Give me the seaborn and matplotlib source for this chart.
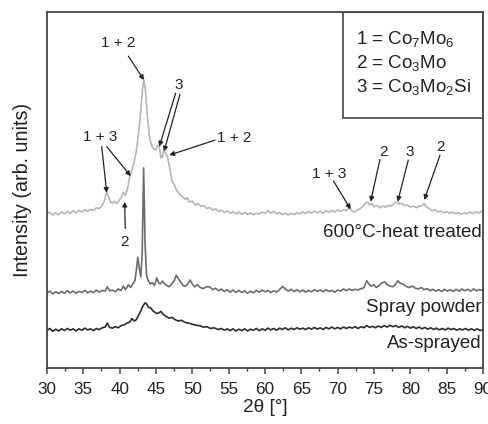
import matplotlib
matplotlib.use("Agg")
import matplotlib.pyplot as plt
import matplotlib.transforms as mtransforms
from matplotlib.patches import Rectangle
from matplotlib.ticker import MultipleLocator
import numpy as np
import pandas as pd
import seaborn as sns

# ---------------- data ----------------
heat_x = [30.0, 30.4, 30.8, 31.2, 31.6, 32.0, 32.4, 32.8, 33.2, 33.6, 34.0, 34.4, 34.8, 35.2, 35.6, 36.0, 36.4, 36.8, 37.2, 37.6,
          37.9, 38.2, 38.4, 38.7, 39.0, 39.3, 39.6, 39.9, 40.2, 40.5, 40.8, 41.1, 41.4, 41.7, 42.0, 42.3, 42.6, 42.9, 43.15, 43.35,
          43.55, 43.8, 44.1, 44.4, 44.7, 45.0, 45.2, 45.45, 45.7, 45.85, 46.05, 46.3, 46.6, 46.9, 47.2, 47.5, 47.8, 48.1, 48.4, 48.7,
          49.0, 49.3, 49.6, 50.0, 50.4, 50.8, 51.2, 51.6, 52.0, 52.4, 52.8, 53.2, 53.6, 54.0, 54.4, 54.8, 55.2, 55.6, 56.0, 56.4,
          56.8, 57.2, 57.6, 58.0, 58.4, 58.8, 59.2, 59.6, 60.0, 60.4, 60.8, 61.2, 61.6, 62.0, 62.4, 62.8, 63.2, 63.6, 64.0, 64.4,
          64.8, 65.2, 65.6, 66.0, 66.4, 66.8, 67.2, 67.6, 68.0, 68.4, 68.8, 69.2, 69.6, 70.0, 70.4, 70.8, 71.2, 71.6, 71.9, 72.2,
          72.6, 73.0, 73.4, 73.8, 74.1, 74.4, 74.7, 75.0, 75.4, 75.8, 76.2, 76.6, 77.0, 77.4, 77.8, 78.2, 78.5, 78.8, 79.2, 79.6,
          80.0, 80.4, 80.8, 81.2, 81.6, 81.9, 82.2, 82.6, 83.0, 83.4, 83.8, 84.2, 84.6, 85.0, 85.4, 85.8, 86.2, 86.6, 87.0, 87.4,
          87.8, 88.2, 88.6, 89.0, 89.4, 89.8, 90.0]
heat_y = [43.2, 43.8, 43.0, 43.6, 43.1, 43.9, 43.3, 44.0, 43.4, 44.2, 43.6, 44.3, 43.8, 44.5, 44.0, 44.6, 44.3, 45.0, 44.8, 45.6,
          47.0, 49.5, 48.6, 46.8, 46.3, 46.8, 46.2, 47.0, 47.8, 49.3, 48.5, 50.5, 54.0, 55.5, 58.0, 61.0, 66.0, 72.0, 78.5, 80.9,
          78.0, 71.0, 65.0, 62.5, 61.5, 61.2, 62.6, 62.2, 59.0, 59.2, 61.0, 60.4, 59.2, 56.0, 52.5, 51.5, 50.0, 49.2, 48.5, 48.0,
          47.4, 47.8, 46.6, 46.9, 45.8, 46.2, 45.4, 45.6, 44.8, 45.1, 44.4, 44.7, 44.0, 44.3, 43.7, 44.1, 43.5, 43.9, 43.3, 43.8,
          43.2, 43.7, 43.1, 43.6, 43.0, 43.5, 43.2, 43.8, 43.4, 44.2, 43.5, 44.0, 43.3, 43.7, 43.1, 43.5, 43.0, 43.4, 43.1, 43.7,
          43.2, 43.9, 43.4, 44.0, 43.5, 44.1, 43.6, 44.0, 43.5, 44.2, 43.7, 44.3, 43.8, 44.4, 44.0, 44.5, 44.2, 45.0, 44.3, 43.8,
          44.2, 44.6, 45.3, 46.2, 46.6, 45.8, 46.2, 45.3, 45.6, 45.0, 45.5, 45.2, 45.7, 45.5, 46.2, 46.6, 46.0, 46.3, 45.6, 45.8,
          45.2, 45.5, 45.0, 45.4, 45.6, 46.2, 45.3, 44.8, 44.2, 44.5, 43.8, 44.1, 43.6, 43.9, 43.4, 43.8, 43.3, 43.7, 43.2, 43.6,
          43.3, 43.8, 43.4, 43.9, 43.5, 44.0, 43.7]

spray_x = [30.0, 30.4, 30.8, 31.2, 31.6, 32.0, 32.4, 32.8, 33.2, 33.6, 34.0, 34.4, 34.8, 35.2, 35.6, 36.0, 36.4, 36.8, 37.2, 37.6,
           38.0, 38.3, 38.6, 39.0, 39.4, 39.8, 40.2, 40.5, 40.8, 41.2, 41.5, 41.8, 42.1, 42.3, 42.5, 42.7, 42.9, 43.1, 43.3, 43.5,
           43.7, 43.9, 44.2, 44.5, 44.8, 45.1, 45.4, 45.6, 45.9, 46.2, 46.5, 46.8, 47.1, 47.5, 47.8, 48.1, 48.4, 48.7, 49.0, 49.3,
           49.7, 50.0, 50.3, 50.7, 51.1, 51.5, 51.9, 52.4, 52.8, 53.2, 53.6, 54.0, 54.4, 54.8, 55.2, 55.6, 56.0, 56.4, 56.8, 57.2,
           57.6, 58.0, 58.4, 58.8, 59.2, 59.6, 60.0, 60.4, 60.8, 61.2, 61.6, 62.0, 62.4, 62.8, 63.2, 63.6, 64.0, 64.4, 64.8, 65.2,
           65.6, 66.0, 66.4, 66.8, 67.2, 67.6, 68.0, 68.4, 68.8, 69.2, 69.6, 70.0, 70.4, 70.8, 71.2, 71.6, 72.0, 72.4, 72.8, 73.2,
           73.6, 74.0, 74.3, 74.6, 75.0, 75.3, 75.6, 76.0, 76.5, 76.8, 77.2, 77.6, 78.0, 78.3, 78.6, 79.0, 79.4, 79.8, 80.3, 80.7,
           81.1, 81.5, 81.9, 82.3, 82.7, 83.1, 83.5, 83.9, 84.3, 84.7, 85.1, 85.5, 85.9, 86.3, 86.7, 87.1, 87.5, 87.9, 88.3, 88.7,
           89.1, 89.5, 90.0]
spray_y = [21.0, 21.6, 20.8, 21.4, 20.9, 21.5, 21.0, 21.7, 21.1, 21.6, 21.0, 21.5, 21.2, 21.8, 21.1, 21.6, 21.2, 21.9, 21.3, 21.8,
           21.6, 22.8, 21.7, 21.9, 21.4, 22.2, 21.8, 23.0, 22.0, 23.4, 22.6, 23.6, 24.5, 27.5, 31.1, 28.0, 25.6, 32.0, 56.2, 35.0,
           26.0, 24.7, 23.6, 24.0, 23.2, 25.3, 23.8, 23.6, 24.4, 23.6, 23.2, 22.8, 23.5, 24.5, 26.1, 25.0, 24.2, 23.2, 23.0, 23.4,
           24.7, 23.6, 22.8, 23.4, 22.6, 22.3, 22.8, 22.8, 22.0, 22.4, 21.7, 22.2, 21.5, 22.0, 21.3, 21.9, 21.2, 21.8, 21.2, 21.7,
           21.0, 21.6, 21.1, 21.8, 21.3, 21.9, 21.4, 21.8, 21.2, 21.7, 21.3, 22.0, 22.9, 22.2, 21.6, 22.1, 21.5, 22.0, 21.4, 21.9,
           21.3, 21.8, 21.4, 22.0, 21.5, 21.9, 21.4, 22.0, 21.5, 21.8, 21.3, 21.9, 21.6, 22.2, 21.7, 22.2, 21.8, 22.1, 21.9, 22.3,
           22.5, 24.5, 23.6, 23.0, 23.4, 22.6, 23.0, 23.8, 24.2, 23.4, 23.0, 22.8, 23.6, 24.5, 23.8, 23.5, 23.0, 22.6, 23.0, 22.4,
           22.2, 22.6, 22.0, 22.3, 21.7, 22.1, 21.6, 22.0, 21.5, 22.1, 21.6, 22.0, 21.5, 22.1, 21.6, 22.2, 21.7, 22.1, 21.6, 22.2,
           21.7, 22.0, 21.8]

asspr_x = [30.0, 30.4, 30.8, 31.2, 31.6, 32.0, 32.4, 32.8, 33.2, 33.6, 34.0, 34.4, 34.8, 35.2, 35.6, 36.0, 36.4, 36.8, 37.2, 37.6,
           38.0, 38.3, 38.6, 39.0, 39.4, 39.8, 40.2, 40.6, 41.0, 41.4, 41.7, 42.0, 42.3, 42.6, 42.9, 43.2, 43.5, 43.7, 44.0, 44.3,
           44.6, 44.9, 45.1, 45.4, 45.7, 46.0, 46.4, 46.8, 47.2, 47.7, 48.1, 48.5, 49.0, 49.5, 50.0, 50.5, 51.0, 51.5, 52.0, 52.5,
           53.0, 53.5, 54.0, 54.4, 54.8, 55.2, 55.6, 56.0, 56.4, 56.8, 57.2, 57.6, 58.0, 58.4, 58.8, 59.2, 59.6, 60.0, 60.4, 60.8,
           61.2, 61.6, 62.0, 62.4, 62.8, 63.2, 63.6, 64.0, 64.4, 64.8, 65.2, 65.6, 66.0, 66.4, 66.8, 67.2, 67.6, 68.0, 68.4, 68.8,
           69.2, 69.6, 70.0, 70.4, 70.8, 71.2, 71.6, 72.0, 72.4, 72.8, 73.2, 73.6, 74.0, 74.4, 74.8, 75.2, 75.6, 76.0, 76.4, 76.8,
           77.2, 77.6, 78.0, 78.4, 78.8, 79.2, 79.6, 80.0, 80.4, 80.8, 81.2, 81.6, 82.0, 82.4, 82.8, 83.2, 83.6, 84.0, 84.4, 84.8,
           85.2, 85.6, 86.0, 86.4, 86.8, 87.2, 87.6, 88.0, 88.4, 88.8, 89.2, 89.6, 90.0]
asspr_y = [10.5, 11.1, 10.3, 10.9, 10.4, 11.0, 10.5, 11.1, 10.6, 11.0, 10.4, 11.0, 10.6, 11.2, 10.7, 11.0, 10.5, 11.1, 10.8, 11.3,
           11.5, 12.6, 11.4, 11.2, 11.6, 11.3, 11.9, 12.1, 12.6, 12.9, 13.9, 13.2, 13.6, 14.8, 16.0, 17.4, 18.3, 18.0, 17.0, 16.8,
           16.0, 15.6, 15.3, 15.5, 15.9, 15.0, 14.5, 14.0, 14.2, 13.5, 13.2, 13.4, 12.8, 12.6, 12.3, 12.0, 11.9, 11.5, 11.6, 11.1,
           11.3, 10.8, 11.1, 10.6, 11.0, 10.5, 11.0, 10.4, 10.9, 10.5, 11.0, 10.4, 10.9, 10.6, 11.1, 10.5, 11.0, 10.6, 11.2, 10.7,
           11.1, 10.6, 11.2, 10.8, 11.3, 10.7, 11.2, 10.8, 11.3, 10.9, 11.2, 10.8, 11.3, 10.9, 11.4, 10.9, 11.3, 10.8, 11.4, 11.0,
           11.5, 11.0, 11.4, 11.0, 11.5, 11.1, 11.5, 11.2, 11.6, 11.1, 11.6, 11.3, 11.9, 11.4, 11.7, 11.3, 11.8, 11.4, 11.9, 11.5,
           12.0, 11.6, 11.9, 11.4, 11.8, 11.3, 11.7, 11.2, 11.6, 11.1, 11.5, 11.0, 11.4, 10.9, 11.3, 10.8, 11.2, 10.7, 11.1, 10.7,
           11.2, 10.8, 11.1, 10.6, 11.0, 10.7, 11.1, 10.6, 11.0, 10.6, 11.0, 10.5, 10.8]

series_names = ["600°C-heat treated", "Spray powder", "As-sprayed"]
series_colors = ["#b5b5b5", "#6c6c6c", "#2c2c2c"]
series_label_y = [36.7, 15.8, 5.5]

legend_lines = ["1 = Co$_\\mathregular{7}$Mo$_\\mathregular{6}$",
                "2 = Co$_\\mathregular{3}$Mo",
                "3 = Co$_\\mathregular{3}$Mo$_\\mathregular{2}$Si"]

# annotations: (label, text position, [(arrow start, arrow tip), ...])
annotations = [
    ("1 + 2", (39.81, 91.2), [((41.19, 87.6), (43.35, 80.9))]),
    ("3", (48.07, 79.5), [((47.71, 77.2), (45.45, 62.2)), ((48.30, 76.9), (46.10, 60.8))]),
    ("1 + 3", (37.29, 65.0), [((37.53, 62.2), (38.22, 49.2)), ((38.22, 62.2), (41.52, 53.9))]),
    ("2", (40.60, 35.5), [((40.77, 39.2), (40.69, 46.7))]),
    ("1 + 3", (68.85, 54.5), [((69.40, 52.6), (71.79, 44.6))]),
    ("2", (76.28, 60.8), [((75.82, 58.6), (74.54, 46.7))]),
    ("3", (79.95, 60.8), [((79.72, 58.4), (78.26, 46.7))]),
    ("2", (84.22, 62.2), [((84.08, 59.8), (81.92, 47.2))]),
]
right_annot = ("1 + 2", (53.35, 64.5), ((53.12, 64.0), (46.83, 59.8)))

# ---------------- styling ----------------
sns.set_theme(style="white")
plt.rcParams["font.family"] = ["Liberation Sans", "DejaVu Sans"]
plt.rcParams["mathtext.fontset"] = "custom"
plt.rcParams["mathtext.rm"] = "Liberation Sans"
plt.rcParams["mathtext.it"] = "Liberation Sans:italic"
plt.rcParams["mathtext.bf"] = "Liberation Sans:bold"

frames = []
for name, xs, ys in zip(series_names, [heat_x, spray_x, asspr_x], [heat_y, spray_y, asspr_y]):
    frames.append(pd.DataFrame({"two_theta": xs, "intensity": ys, "sample": name}))
df = pd.concat(frames, ignore_index=True)

fig = plt.figure(figsize=(4.89, 4.24), dpi=100)
ax = fig.add_axes([0.0961, 0.1321, 0.8916, 0.8396])

sns.lineplot(data=df, x="two_theta", y="intensity", hue="sample", palette=series_colors,
             hue_order=series_names, sort=False, estimator=None, lw=1.2, legend=False, ax=ax)

ax.set_xlim(30, 90)
ax.set_ylim(0, 100)
ax.set_yticks([])
ax.xaxis.set_major_locator(MultipleLocator(5))
ax.xaxis.set_minor_locator(MultipleLocator(2.5))
ax.tick_params(axis="x", which="major", direction="out", length=4.5, width=1.1, color="#444444",
               labelsize=12.3, pad=5.5, bottom=True, labelcolor="#222222")
ax.tick_params(axis="x", which="minor", direction="out", length=2.5, width=1.0, color="#444444", bottom=True)
for s in ax.spines.values():
    s.set_color("#444444")
    s.set_linewidth(1.3)

ax.set_xlabel("2θ [°]", fontsize=13.7, color="#222222")
ax.set_ylabel("Intensity (arb. units)", fontsize=14.2, color="#222222")
ax.xaxis.set_label_coords(0.5, -0.087)
ax.yaxis.set_label_coords(-0.034, 0.5)

# series labels
trans = mtransforms.blended_transform_factory(ax.transAxes, ax.transData)
for name, yv in zip(series_names, series_label_y):
    ax.text(0.997, yv, name, transform=trans, ha="right", va="baseline", fontsize=13.5, color="#222222")

# composition box
ax.add_patch(Rectangle((0.680, 0.701), 0.320, 0.299, transform=ax.transAxes,
                       fill=False, edgecolor="#444444", lw=1.2))
for txt, yy in zip(legend_lines, [0.909, 0.842, 0.775]):
    ax.text(0.708, yy, txt, transform=ax.transAxes, ha="left", va="baseline", fontsize=13.5, color="#222222")

arrow_kw = dict(arrowstyle="-|>", color="#222222", lw=0.9, mutation_scale=7, shrinkA=0, shrinkB=0)
for label, tpos, arrows in annotations:
    ax.text(tpos[0], tpos[1], label, ha="center", va="center", fontsize=11, color="#222222")
    for start, tip in arrows:
        ax.annotate("", xy=tip, xytext=start, arrowprops=arrow_kw)
label, tpos, (start, tip) = right_annot
ax.text(tpos[0], tpos[1], label, ha="left", va="center", fontsize=11, color="#222222")
ax.annotate("", xy=tip, xytext=start, arrowprops=arrow_kw)

fig.savefig("out.png", dpi=100)
